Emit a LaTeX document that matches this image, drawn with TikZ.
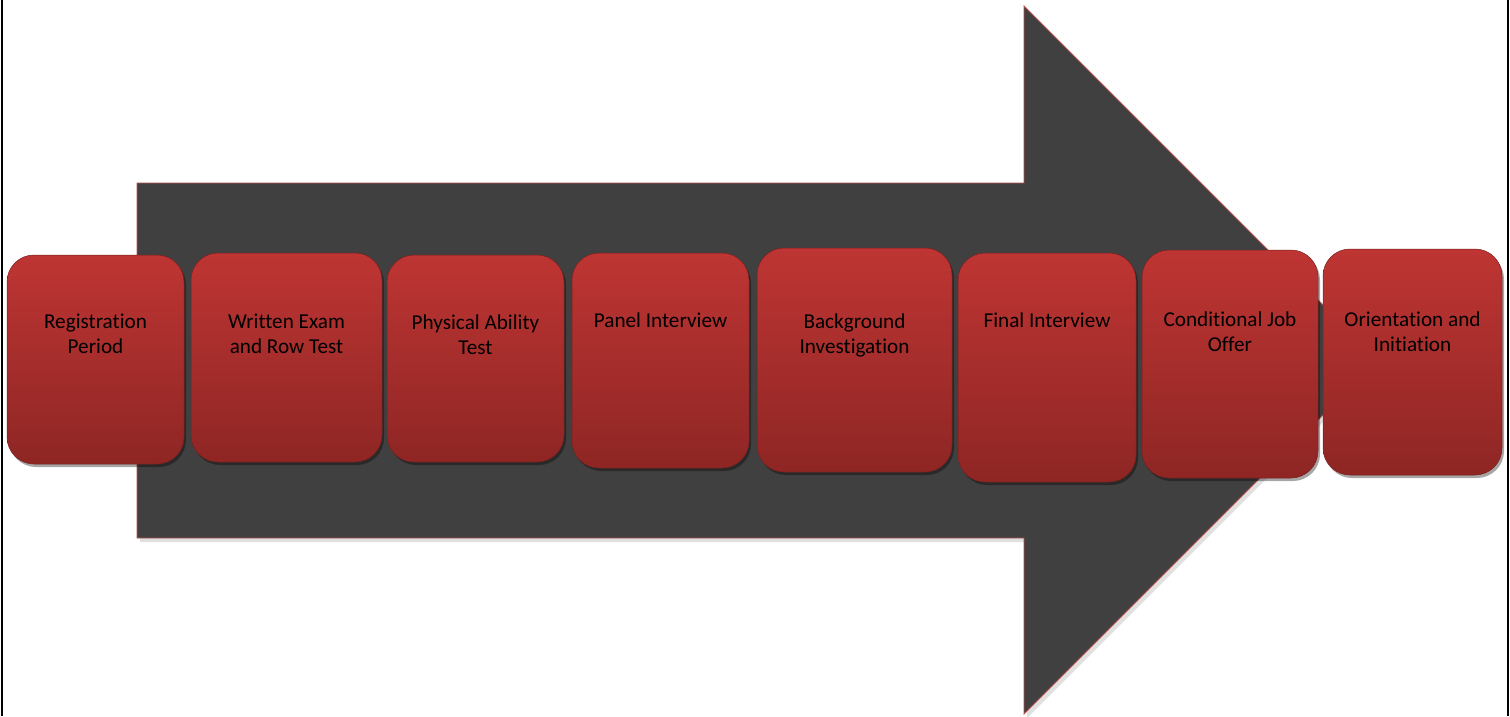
\documentclass[tikz,border=0pt]{standalone}
\usepackage{fontspec}
\setmainfont{Carlito}[Ligatures=NoCommon]
\usepackage{tikz}
\usetikzlibrary{shadows}

\definecolor{arrowgray}{HTML}{404040}
\definecolor{arrowedge}{HTML}{B5524F}
\definecolor{boxtop}{HTML}{BE3533}
\definecolor{boxbot}{HTML}{8E2624}

\tikzset{
  stepbox/.style={rounded corners=27pt, inner sep=0pt, top color=boxtop, bottom color=boxbot,
    draw=boxbot!85!black, line width=0.5pt,
    drop shadow={shadow xshift=2pt, shadow yshift=-3pt, opacity=0.35, fill=black}},
  steptext/.style={anchor=base, align=center, inner sep=0pt, text=black,
    font=\fontsize{21.2}{25}\selectfont},
}

\begin{document}
\begin{tikzpicture}[x=1pt, y=-1pt]
  \useasboundingbox (0,0) rectangle (1510,716);

  % Frame
  \draw[line width=2.5pt] (2,0) -- (2,716);
  \draw[line width=2.5pt] (1508,0) -- (1508,716);

  % Big arrow
  \fill[black, opacity=0.12] (140,187) -- (1027,187) -- (1027,10) -- (1381,364) -- (1027,718) -- (1027,542) -- (140,542) -- cycle;
  \draw[draw=arrowedge, fill=arrowgray, line width=0.8pt] (137,183) -- (1024,183) -- (1024,6) -- (1378,360) -- (1024,714) -- (1024,538) -- (137,538) -- cycle;

  % Nodes
  \node[stepbox, minimum width=177pt, minimum height=209pt] (s1) at (95.5,359.5) {};
  \node[stepbox, minimum width=191pt, minimum height=209pt] (s2) at (286.5,357.5) {};
  \node[stepbox, minimum width=177pt, minimum height=207pt] (s3) at (475.5,358.5) {};
  \node[stepbox, minimum width=177pt, minimum height=215pt] (s4) at (660.5,360.5) {};
  \node[stepbox, minimum width=195pt, minimum height=224pt] (s5) at (854.5,360) {};
  \node[stepbox, minimum width=178pt, minimum height=229pt] (s6) at (1047,367.5) {};
  \node[stepbox, minimum width=176pt, minimum height=228pt] (s7) at (1230,364) {};
  \node[stepbox, minimum width=179pt, minimum height=226pt] (s8) at (1412.5,362) {};

  % Labels (base = last line)
  \node[steptext] (t1) at (s1.center |- 0,353) {Registration\\Period};
  \node[steptext] (t2) at (s2.center |- 0,353) {Written Exam\\and Row Test};
  \node[steptext] (t3) at (s3.center |- 0,354) {Physical Ability\\Test};
  \node[steptext] (t4) at (s4.center |- 0,327) {Panel Interview};
  \node[steptext] (t5) at (s5.center |- 0,353) {Background\\Investigation};
  \node[steptext] (t6) at (s6.center |- 0,327) {Final Interview};
  \node[steptext] (t7) at (s7.center |- 0,351) {Conditional Job\\Offer};
  \node[steptext] (t8) at (s8.center |- 0,351) {Orientation and\\Initiation};

\end{tikzpicture}
\end{document}
